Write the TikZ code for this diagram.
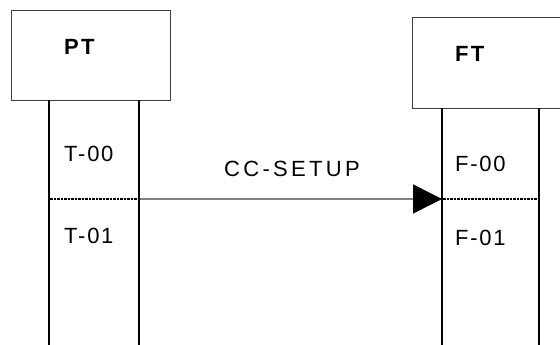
\documentclass[tikz,border=0pt]{standalone}
\usepackage{fontspec}
\setmainfont{Liberation Sans}
\usetikzlibrary{arrows.meta}
\tikzset{
  x=1pt, y=-1pt,
  hdrbox/.style={draw=black!75, line width=1pt, fill=white},
  lifeline/.style={draw=black, line width=2pt},
  divider/.style={draw=black, line width=1.2pt, dash pattern=on 2.5pt off 1pt},
  msg/.style={draw=black!50, line width=1.5pt, -{Triangle[length=29pt,width=29pt,black]}},
  lbl/.style={anchor=base west, inner sep=0pt, font=\fontsize{22}{26}\selectfont\addfontfeatures{LetterSpace=8}},
  hdr/.style={anchor=base west, inner sep=0pt, font=\fontsize{22}{26}\selectfont\bfseries\addfontfeatures{LetterSpace=10}},
  msglbl/.style={anchor=base, inner sep=0pt, font=\fontsize{22}{26}\selectfont\addfontfeatures{LetterSpace=15}}
}
\begin{document}
\begin{tikzpicture}
\useasboundingbox (0,0) rectangle (560,345);
\clip (0,0) rectangle (560,345);
% header boxes
\node[hdrbox, minimum width=159pt, minimum height=90pt, anchor=north west] (ptbox) at (11,10) {};
\node[hdrbox, minimum width=190pt, minimum height=91pt, anchor=north west] (ftbox) at (412,17) {};
\node[hdr] (pt) at (64,55) {PT};
\node[hdr] (ft) at (455,62) {FT};
% lifeline coordinates
\coordinate (p1t) at (49,100); \coordinate (p1b) at (49,350);
\coordinate (p2t) at (139,100); \coordinate (p2b) at (139,350);
\coordinate (f1t) at (442,108); \coordinate (f1b) at (442,350);
\coordinate (f2t) at (539,108); \coordinate (f2b) at (539,350);
\draw[lifeline] (p1t) -- (p1b);
\draw[lifeline] (p2t) -- (p2b);
\draw[lifeline] (f1t) -- (f1b);
\draw[lifeline] (f2t) -- (f2b);
% dividers
\coordinate (pd1) at (50,199); \coordinate (pd2) at (138,199);
\coordinate (fd1) at (443,199); \coordinate (fd2) at (538,199);
\draw[divider] (pd1) -- (pd2);
\draw[divider] (fd1) -- (fd2);
% state labels
\node[lbl] (t00) at (64,161) {T-00};
\node[lbl] (t01) at (64,243) {T-01};
\node[lbl] (f00) at (455,171) {F-00};
\node[lbl] (f01) at (455,245) {F-01};
% message
\coordinate (ms) at (140,199); \coordinate (me) at (442,199);
\draw[msg] (ms) -- (me);
\node[msglbl] (cc) at (292,176) {CC-SETUP};
\end{tikzpicture}
\end{document}
